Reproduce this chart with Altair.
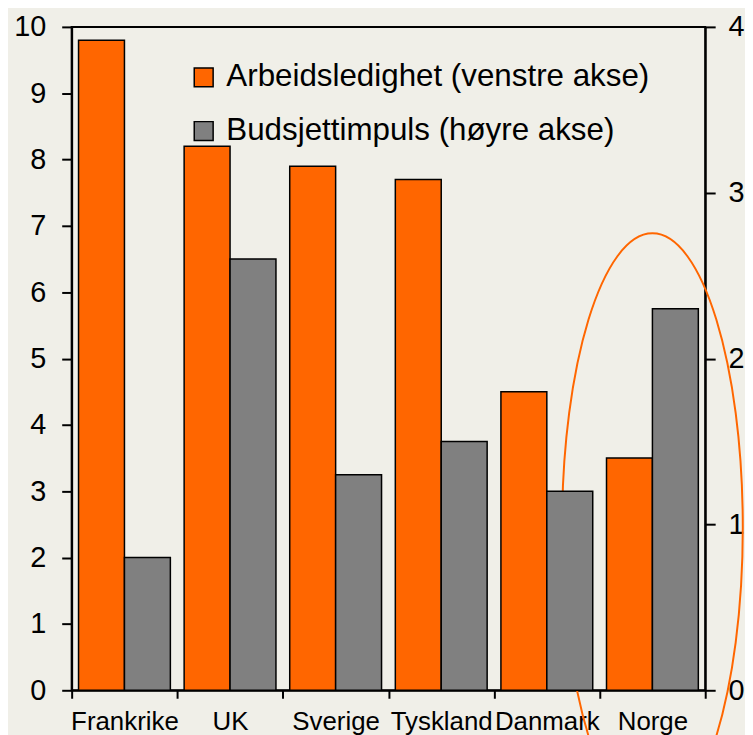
import altair as alt
import pandas as pd

# ---- data ----
categories = ["Frankrike", "UK", "Sverige", "Tyskland", "Danmark", "Norge"]
arbeidsledighet = [9.8, 8.2, 7.9, 7.7, 4.5, 3.5]          # left axis (%)
budsjettimpuls = [0.8, 2.6, 1.3, 1.5, 1.2, 2.3]           # right axis
series_names = ["Arbeidsledighet (venstre akse)", "Budsjettimpuls (høyre akse)"]
series_colors = ["#FF6600", "#808080"]
left_ticks = [0, 1, 2, 3, 4, 5, 6, 7, 8, 9, 10]
right_ticks = [0, 1, 2, 3, 4]
highlight_land = ["Norge"]
highlight_level = [2.45]   # centre of the highlight ellipse on the left axis

FONT = "Liberation Sans"
BG = "#F0EFE8"

df_a = pd.DataFrame({"land": categories, "verdi": arbeidsledighet, "serie": series_names[0]})
df_b = pd.DataFrame({"land": categories, "verdi": budsjettimpuls, "serie": series_names[1]})
df_h = pd.DataFrame({"land": highlight_land, "verdi": highlight_level})

x_scale = alt.Scale(domain=categories, paddingInner=0, paddingOuter=0)
x_axis = alt.Axis(
    title=None, tickBand="extent", tickSize=8, tickWidth=2, tickColor="black",
    domainColor="black", domainWidth=2, labelFontSize=26, labelFont=FONT,
    labelColor="black", labelPadding=10, labelAngle=0, labelOverlap=False,
)
left_axis = alt.Axis(
    title=None, values=left_ticks, tickSize=10, tickWidth=2, tickColor="black",
    domainColor="black", domainWidth=2, grid=False, labelFontSize=29,
    labelFont=FONT, labelColor="black", labelPadding=16, orient="left",
)
right_axis = alt.Axis(
    title=None, values=right_ticks, tickSize=10, tickWidth=2, tickColor="black",
    domainColor="black", domainWidth=2, grid=False, labelFontSize=29,
    labelFont=FONT, labelColor="black", labelPadding=13, orient="right",
)
xoff = alt.XOffset(
    "serie:N",
    scale=alt.Scale(domain=series_names, paddingOuter=0.15, paddingInner=0),
)
color = alt.Color(
    "serie:N",
    scale=alt.Scale(domain=series_names, range=series_colors),
    legend=alt.Legend(
        title=None, orient="none", legendX=117, legendY=35, padding=0,
        symbolType="square", symbolSize=361, symbolStrokeColor="black",
        symbolStrokeWidth=1.5, symbolOpacity=1, labelFontSize=31.5, labelFont=FONT,
        labelColor="black", labelOffset=7, rowPadding=21, labelLimit=600,
    ),
)

left_y_scale = alt.Scale(domain=[0, 10], nice=False)

bars_a = alt.Chart(df_a).mark_bar(stroke="black", strokeWidth=1.5, opacity=1).encode(
    x=alt.X("land:N", sort=categories, scale=x_scale, axis=x_axis),
    xOffset=xoff,
    y=alt.Y("verdi:Q", scale=left_y_scale, axis=left_axis),
    color=color,
)

ellipse_path = "M -0.307 0 A 0.307 1 0 1 1 0.307 0 A 0.307 1 0 1 1 -0.307 0 Z"
ellipse = alt.Chart(df_h).mark_point(
    shape=ellipse_path, size=350464, filled=False, color="#FF6600",
    strokeWidth=2, opacity=1,
).encode(
    x=alt.X("land:N", sort=categories, scale=x_scale, axis=x_axis),
    y=alt.Y("verdi:Q", scale=left_y_scale, axis=left_axis),
)

bars_b = alt.Chart(df_b).mark_bar(stroke="black", strokeWidth=1.5, opacity=1).encode(
    x=alt.X("land:N", sort=categories, scale=x_scale, axis=x_axis),
    xOffset=xoff,
    y=alt.Y("verdi:Q", scale=alt.Scale(domain=[0, 4], nice=False), axis=right_axis),
    color=color,
)

left = alt.layer(bars_a, ellipse)
chart = (
    alt.layer(left, bars_b)
    .resolve_scale(y="independent")
    .properties(
        width=637, height=667, background=BG,
        autosize=alt.AutoSizeParams(type="none"),
        padding={"left": 64, "top": 17, "right": 40, "bottom": 50},
    )
    .configure_view(stroke="black", strokeWidth=2, fill=BG)
)

chart.save("out.html", embed_options={"renderer": "svg", "actions": False})
